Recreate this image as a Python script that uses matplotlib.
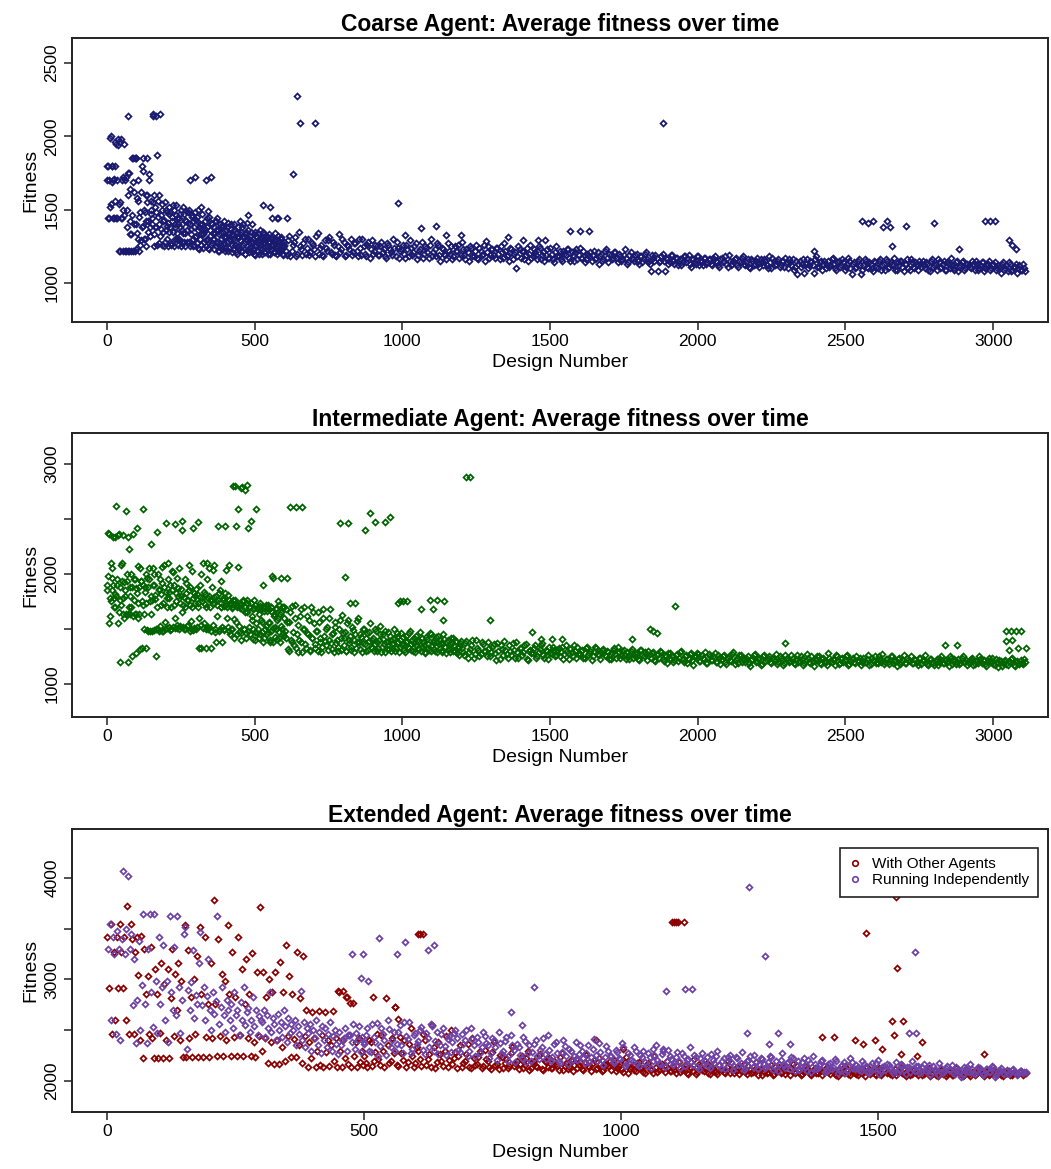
import numpy as np
import matplotlib
matplotlib.use('Agg')
import matplotlib.pyplot as plt
from matplotlib.lines import Line2D

plt.rcParams['font.family'] = ['Liberation Sans', 'DejaVu Sans']
FS_TITLE, FS_TICK, FS_LAB, FS_LEG = 16.5, 12.5, 14, 11

# ---------------- Coarse agent ----------------
# designs 1..598, every 3rd design
coarse_y_early = [
    1700, 1800, 1440, 1520, 2000, 1690, 1800, 1440, 1710, 1800,
    1950, 1440, 1980, 1540, 1220, 1960, 1440, 1700, 1500, 1950,
    1220, 1720, 1380, 1220, 1600, 1750, 1330, 1220, 1460, 1690,
    1620, 1220, 1400, 1850, 1340, 1560, 1220, 1480, 1290, 1800,
    1390, 1850, 1500, 1300, 1420, 1600, 1350, 1700, 1380, 1470,
    1560, 1400, 2150, 1330, 1520, 1380, 1870, 1450, 1270, 1600,
    2150, 1370, 1500, 1420, 1250, 1550, 1360, 1480, 1300, 1410,
    1520, 1380, 1260, 1450, 1350, 1500, 1300, 1400, 1530, 1340,
    1260, 1440, 1380, 1500, 1280, 1400, 1340, 1470, 1250, 1420,
    1360, 1480, 1280, 1400, 1700, 1330, 1450, 1250, 1380, 1310,
    1430, 1270, 1360, 1500, 1230, 1400, 1330, 1470, 1240, 1350,
    1420, 1290, 1700, 1380, 1240, 1450, 1320, 1260, 1400, 1300,
    1380, 1230, 1340, 1420, 1270, 1360, 1220, 1400, 1300, 1340,
    1250, 1390, 1310, 1220, 1360, 1280, 1410, 1240, 1330, 1290,
    1370, 1210, 1300, 1400, 1260, 1340, 1200, 1310, 1380, 1230,
    1290, 1350, 1220, 1400, 1270, 1330, 1200, 1300, 1250, 1360,
    1210, 1320, 1280, 1400, 1230, 1300, 1200, 1350, 1260, 1310,
    1220, 1290, 1360, 1240, 1300, 1200, 1270, 1330, 1210, 1290,
    1250, 1310, 1200, 1280, 1520, 1230, 1300, 1260, 1210, 1340,
    1240, 1290, 1200, 1320, 1260, 1220, 1300, 1250, 1190, 1280,
]
# designs 2..599, every 3rd design
coarse_y_early_b = [
    1800, 1440, 1700, 1990, 1540, 1800, 1700, 1440, 1960, 1560,
    1440, 1700, 1940, 1220, 1550, 1980, 1440, 1220, 1720, 1460,
    1700, 1220, 1500, 1750, 1220, 1420, 1640, 1330, 1850, 1220,
    1400, 1850, 1230, 1580, 1300, 1700, 1450, 1260, 1620, 1380,
    1760, 1300, 1480, 1600, 1250, 1550, 1420, 1740, 1320, 1500,
    1440, 1550, 1250, 1600, 1380, 1480, 1260, 1560, 1400, 1320,
    1460, 1260, 1540, 1350, 1430, 1280, 1500, 1390, 1250, 1470,
    1350, 1480, 1270, 1420, 1530, 1250, 1380, 1460, 1300, 1440,
    1400, 1300, 1470, 1250, 1360, 1520, 1280, 1430, 1340, 1490,
    1280, 1410, 1500, 1250, 1370, 1460, 1300, 1420, 1260, 1480,
    1320, 1450, 1240, 1380, 1300, 1520, 1260, 1400, 1330, 1280,
    1370, 1250, 1440, 1300, 1490, 1230, 1360, 1410, 1270, 1340,
    1300, 1420, 1250, 1360, 1440, 1220, 1330, 1270, 1390, 1230,
    1350, 1270, 1420, 1240, 1310, 1380, 1220, 1340, 1300, 1400,
    1260, 1330, 1230, 1360, 1290, 1210, 1350, 1250, 1310, 1420,
    1330, 1220, 1380, 1260, 1310, 1200, 1350, 1290, 1410, 1230,
    1300, 1240, 1350, 1210, 1280, 1330, 1250, 1190, 1320, 1270,
    1340, 1200, 1260, 1310, 1230, 1290, 1350, 1210, 1270, 1320,
    1230, 1280, 1330, 1200, 1260, 1310, 1440, 1240, 1290, 1210,
    1300, 1250, 1440, 1210, 1280, 1230, 1310, 1270, 1200, 1260,
]
# designs 601..3105, every 8th design
coarse_y_late = [
    1250, 1190, 1320, 1220, 1280, 1180, 1350, 1230, 1270, 1200,
    1300, 1210, 1260, 1180, 1340, 1240, 1190, 1290, 1220, 1310,
    1200, 1260, 1180, 1330, 1230, 1280, 1190, 1250, 1300, 1210,
    1270, 1180, 1240, 1300, 1200, 1260, 1170, 1290, 1220, 1250,
    1190, 1280, 1230, 1170, 1260, 1210, 1300, 1180, 1240, 1220,
    1260, 1170, 1230, 1290, 1190, 1250, 1160, 1220, 1280, 1200,
    1240, 1170, 1300, 1210, 1180, 1260, 1150, 1230, 1190, 1270,
    1200, 1160, 1250, 1220, 1170, 1280, 1190, 1230, 1150, 1240,
    1180, 1260, 1160, 1220, 1200, 1150, 1250, 1190, 1230, 1170,
    1240, 1160, 1210, 1270, 1180, 1150, 1230, 1200, 1100, 1250,
    1170, 1220, 1190, 1150, 1260, 1180, 1210, 1160, 1240, 1190,
    1150, 1230, 1170, 1200, 1140, 1250, 1180, 1160, 1220, 1190,
    1230, 1150, 1190, 1210, 1160, 1240, 1170, 1140, 1200, 1180,
    1150, 1220, 1170, 1130, 1200, 1160, 1230, 1140, 1190, 1170,
    1210, 1140, 1180, 1160, 1230, 1130, 1190, 1170, 1150, 1200,
    1130, 1180, 1160, 1210, 1140, 1080, 1170, 1190, 1080, 1150,
    1200, 1080, 1160, 1140, 1190, 1130, 1170, 1150, 1120, 1180,
    1140, 1190, 1110, 1160, 1130, 1180, 1150, 1120, 1170, 1140,
    1160, 1120, 1180, 1140, 1110, 1170, 1150, 1130, 1190, 1120,
    1150, 1170, 1110, 1140, 1180, 1120, 1160, 1100, 1150, 1130,
    1170, 1110, 1140, 1160, 1120, 1180, 1100, 1150, 1130, 1160,
    1120, 1150, 1170, 1100, 1140, 1160, 1110, 1060, 1150, 1130,
    1070, 1160, 1120, 1140, 1070, 1180, 1110, 1150, 1130, 1100,
    1150, 1120, 1170, 1100, 1140, 1110, 1160, 1090, 1130, 1150,
    1060, 1140, 1110, 1160, 1060, 1120, 1150, 1100, 1130, 1080,
    1140, 1100, 1160, 1120, 1090, 1150, 1110, 1130, 1170, 1090,
    1120, 1150, 1080, 1130, 1100, 1160, 1110, 1140, 1090, 1130,
    1150, 1100, 1130, 1080, 1160, 1120, 1090, 1140, 1110, 1150,
    1090, 1130, 1170, 1100, 1140, 1080, 1120, 1150, 1100, 1130,
    1110, 1150, 1090, 1130, 1100, 1140, 1080, 1120, 1150, 1100,
    1130, 1090, 1120, 1070, 1140, 1100, 1080, 1130, 1090, 1110,
    1070, 1120, 1090, 1100,
]
# designs 605..3109, every 8th design
coarse_y_late_b = [
    1220, 1290, 1180, 1260, 1310, 1200, 1250, 1190, 1300, 1240,
    1190, 1270, 1230, 1320, 1200, 1260, 1180, 1240, 1290, 1210,
    1280, 1190, 1250, 1210, 1300, 1180, 1260, 1230, 1190, 1270,
    1220, 1300, 1190, 1250, 1180, 1280, 1230, 1200, 1260, 1190,
    1250, 1210, 1180, 1270, 1230, 1190, 1240, 1280, 1170, 1230,
    1200, 1260, 1180, 1240, 1210, 1270, 1190, 1230, 1170, 1250,
    1210, 1260, 1180, 1230, 1270, 1190, 1240, 1200, 1160, 1220,
    1250, 1180, 1220, 1260, 1190, 1230, 1160, 1210, 1250, 1180,
    1220, 1170, 1240, 1190, 1260, 1210, 1170, 1230, 1190, 1240,
    1200, 1250, 1170, 1220, 1190, 1240, 1160, 1210, 1180, 1230,
    1220, 1160, 1240, 1200, 1170, 1230, 1190, 1250, 1160, 1210,
    1190, 1170, 1240, 1160, 1210, 1180, 1220, 1150, 1200, 1230,
    1170, 1210, 1150, 1230, 1190, 1170, 1220, 1160, 1190, 1210,
    1190, 1160, 1210, 1180, 1150, 1220, 1170, 1200, 1160, 1210,
    1170, 1200, 1150, 1190, 1170, 1140, 1210, 1160, 1190, 1150,
    1180, 1140, 1200, 1160, 1130, 1190, 1150, 1170, 1140, 1180,
    1150, 1170, 1130, 1190, 1150, 1170, 1120, 1160, 1140, 1180,
    1170, 1130, 1160, 1140, 1180, 1120, 1150, 1170, 1130, 1160,
    1130, 1170, 1150, 1120, 1160, 1140, 1180, 1110, 1150, 1130,
    1160, 1120, 1150, 1170, 1130, 1140, 1110, 1160, 1120, 1150,
    1130, 1160, 1120, 1150, 1100, 1140, 1170, 1120, 1150, 1110,
    1150, 1110, 1140, 1160, 1120, 1090, 1150, 1130, 1110, 1160,
    1130, 1100, 1150, 1120, 1160, 1110, 1140, 1090, 1150, 1120,
    1110, 1160, 1130, 1090, 1150, 1120, 1140, 1110, 1170, 1100,
    1130, 1100, 1150, 1120, 1090, 1160, 1110, 1140, 1100, 1150,
    1110, 1150, 1090, 1130, 1160, 1100, 1140, 1120, 1090, 1140,
    1150, 1110, 1130, 1160, 1090, 1140, 1100, 1130, 1150, 1110,
    1120, 1140, 1090, 1150, 1110, 1130, 1160, 1100, 1130, 1090,
    1140, 1100, 1120, 1090, 1150, 1110, 1140, 1090, 1130, 1120,
    1100, 1130, 1150, 1090, 1120, 1140, 1100, 1130, 1090, 1120,
    1140, 1100, 1110, 1130, 1090, 1120, 1140, 1080, 1110, 1130,
    1100, 1090, 1130, 1080,
]
coarse_out_x = [71, 155, 168, 643, 655, 704, 630, 1882, 298, 352, 135, 89, 98,
                528, 477, 575, 609, 985, 2556, 2575, 2593, 2627, 2640, 2650,
                2705, 2800, 2972, 2990, 3006, 3053, 3065, 3077, 2657, 2393,
                2884, 1063, 1115, 1147, 1199, 1009, 1567, 1600, 1632, 1408,
                1460, 1483, 1283, 1358]
coarse_out_y = [2140, 2140, 2140, 2274, 2089, 2089, 1740, 2089, 1719, 1719,
                1850, 1850, 1850, 1534, 1466, 1445, 1445, 1548, 1425, 1405,
                1425, 1380, 1420, 1380, 1385, 1410, 1425, 1425, 1425, 1295,
                1260, 1233, 1253, 1220, 1233, 1377, 1390, 1329, 1329, 1329,
                1356, 1356, 1356, 1295, 1295, 1295, 1288, 1310]

# ---------------- Intermediate agent ----------------
# designs 1..598, every 3rd design
inter_y_early = [
    1900, 2370, 1550, 1780, 2100, 1850, 1960, 2340, 1700, 1820,
    2620, 1900, 2350, 1650, 1760, 1200, 2080, 1940, 2350, 1600,
    1800, 2570, 2000, 1640, 1200, 2230, 1880, 1700, 1250, 2360,
    1950, 1640, 1280, 1870, 2420, 1740, 1640, 2050, 1940, 1330,
    1720, 2590, 1640, 1880, 1330, 1960, 1480, 2050, 1750, 2270,
    1640, 1480, 1900, 2000, 1770, 1250, 2380, 1500, 1850, 1480,
    1950, 1720, 2060, 1480, 1880, 1560, 2460, 1780, 1510, 2100,
    1840, 1490, 1700, 2030, 1520, 1900, 1600, 2450, 1750, 1510,
    1870, 2050, 1530, 1800, 1650, 2480, 1720, 1500, 1950, 1830,
    1530, 1760, 2080, 1480, 1880, 1570, 1700, 2420, 1510, 1800,
    1860, 1520, 2470, 1740, 1600, 1900, 1330, 1780, 2100, 1550,
    1820, 1330, 1700, 1950, 1500, 2050, 1760, 1330, 1880, 1540,
    1790, 2080, 1470, 1750, 1620, 2440, 1830, 1500, 1700, 1940,
    1380, 1760, 1500, 2440, 1720, 1600, 1810, 1480, 2080, 1740,
    1500, 1700, 2800, 1590, 1760, 2440, 1450, 1720, 2590, 1530,
    1690, 1400, 2790, 1760, 1500, 1650, 2760, 1460, 1740, 2420,
    1520, 1700, 2480, 1580, 1680, 1410, 1760, 1470, 2590, 1690,
    1500, 1640, 1740, 1450, 1680, 1560, 1900, 1420, 1700, 1530,
    1660, 1470, 1720, 1550, 1380, 1700, 1980, 1510, 1640, 1430,
    1690, 1500, 1580, 1750, 1420, 1640, 1530, 1700, 1460, 1600,
]
# designs 2..599, every 3rd design
inter_y_early_b = [
    1850, 1980, 2360, 1620, 1750, 2050, 1900, 1780, 2340, 1700,
    1800, 1950, 1550, 2360, 1880, 1720, 2100, 1640, 1780, 1930,
    1850, 1640, 1940, 2340, 1700, 1800, 1640, 2000, 1880, 1620,
    1760, 1950, 1640, 1830, 2070, 1600, 1880, 1320, 1940, 1750,
    1900, 1500, 1840, 2000, 1740, 1490, 1880, 1950, 1480, 1800,
    1760, 2050, 1490, 1900, 1810, 1500, 1700, 2000, 1860, 1530,
    1820, 1480, 1920, 1740, 2080, 1500, 1840, 1700, 1950, 1520,
    1780, 1900, 1500, 1850, 2020, 1720, 1510, 1830, 1960, 1540,
    1800, 1500, 1740, 1860, 2400, 1520, 1790, 1700, 1500, 1920,
    1760, 1540, 1850, 1720, 1500, 2030, 1780, 1490, 1830, 1740,
    1500, 1820, 1700, 1330, 1790, 1540, 2000, 1750, 1510, 1840,
    1730, 1500, 2100, 1780, 1520, 1800, 1700, 1480, 1760, 2040,
    1740, 1500, 1800, 1380, 1720, 1760, 1480, 1850, 1700, 1520,
    1780, 1710, 1490, 1830, 2040, 1700, 1520, 1760, 1450, 1720,
    1690, 1500, 1760, 1420, 1730, 1560, 1700, 2060, 1470, 1740,
    1720, 1460, 1680, 1750, 1500, 1700, 1420, 1760, 1650, 1480,
    1700, 1450, 1740, 1620, 1500, 1690, 1400, 1720, 1550, 1460,
    1680, 1420, 1710, 1580, 1470, 1700, 1380, 1660, 1500, 1720,
    1450, 1690, 1560, 1400, 1700, 1480, 1650, 1380, 1620, 1520,
    1680, 1410, 1600, 1720, 1470, 1380, 1650, 1500, 1700, 1440,
]
# designs 601..1196, every 5th design
inter_y_mid = [
    1700, 1420, 1560, 1300, 1650, 1380, 1470, 1720, 1330, 1540,
    1400, 1680, 1290, 1500, 1360, 1620, 1450, 1310, 1700, 1420,
    1550, 1330, 1480, 1650, 1380, 1290, 1600, 1440, 1350, 1520,
    1400, 1680, 1320, 1460, 1560, 1370, 1300, 1500, 1420, 1630,
    1350, 1470, 1300, 1580, 1400, 1340, 1520, 1290, 1450, 1380,
    1600, 1320, 1430, 1370, 1500, 1300, 1460, 1390, 1550, 1330,
    1420, 1360, 1480, 1300, 1400, 1530, 1340, 1450, 1290, 1380,
    1470, 1320, 1400, 1360, 1500, 1300, 1430, 1380, 1340, 1460,
    1370, 1310, 1440, 1390, 1330, 1480, 1360, 1300, 1420, 1350,
    1400, 1320, 1470, 1340, 1380, 1290, 1430, 1360, 1310, 1450,
    1350, 1400, 1300, 1380, 1440, 1330, 1370, 1290, 1410, 1340,
    1380, 1310, 1360, 1420, 1300, 1350, 1390, 1280, 1340, 1370,
]
# designs 603..1198, every 5th design
inter_y_mid_b = [
    1480, 1680, 1320, 1560, 1400, 1710, 1350, 1600, 1450, 1290,
    1620, 1380, 1500, 1700, 1330, 1460, 1580, 1300, 1420, 1650,
    1360, 1480, 1300, 1560, 1420, 1340, 1680, 1390, 1500, 1310,
    1600, 1370, 1450, 1290, 1520, 1400, 1340, 1580, 1310, 1460,
    1420, 1300, 1550, 1370, 1440, 1310, 1490, 1400, 1330, 1570,
    1380, 1450, 1290, 1500, 1360, 1420, 1310, 1470, 1340, 1400,
    1300, 1500, 1380, 1330, 1450, 1290, 1410, 1360, 1480, 1320,
    1390, 1440, 1300, 1370, 1420, 1330, 1460, 1290, 1400, 1350,
    1430, 1290, 1380, 1340, 1460, 1310, 1400, 1370, 1290, 1440,
    1330, 1390, 1300, 1420, 1350, 1280, 1410, 1330, 1460, 1300,
    1380, 1320, 1430, 1290, 1360, 1400, 1310, 1450, 1340, 1280,
    1400, 1330, 1290, 1370, 1420, 1300, 1380, 1330, 1260, 1390,
]
# designs 1201..3105, every 8th design
inter_y_late = [
    1330, 1260, 1390, 1290, 1350, 1240, 1400, 1310, 1270, 1360,
    1300, 1380, 1250, 1340, 1280, 1370, 1230, 1320, 1390, 1270,
    1350, 1260, 1310, 1380, 1240, 1330, 1290, 1360, 1220, 1310,
    1280, 1350, 1250, 1320, 1370, 1240, 1300, 1340, 1270, 1310,
    1260, 1330, 1290, 1230, 1350, 1280, 1320, 1250, 1300, 1340,
    1270, 1310, 1240, 1340, 1280, 1220, 1300, 1330, 1260, 1290,
    1320, 1250, 1290, 1230, 1310, 1270, 1340, 1240, 1300, 1260,
    1290, 1230, 1320, 1260, 1280, 1220, 1310, 1250, 1270, 1300,
    1240, 1290, 1210, 1270, 1300, 1230, 1260, 1190, 1280, 1250,
    1220, 1270, 1240, 1300, 1200, 1260, 1230, 1280, 1170, 1250,
    1270, 1210, 1240, 1290, 1190, 1250, 1220, 1280, 1200, 1240,
    1230, 1260, 1180, 1250, 1210, 1290, 1220, 1190, 1260, 1230,
    1200, 1250, 1160, 1230, 1270, 1210, 1240, 1180, 1260, 1220,
    1250, 1190, 1230, 1270, 1200, 1240, 1170, 1260, 1220, 1210,
    1240, 1180, 1260, 1210, 1230, 1190, 1270, 1200, 1250, 1160,
    1220, 1250, 1180, 1240, 1200, 1280, 1210, 1230, 1170, 1250,
    1190, 1240, 1220, 1260, 1180, 1230, 1200, 1250, 1210, 1170,
    1240, 1200, 1260, 1180, 1220, 1250, 1190, 1230, 1270, 1200,
    1230, 1180, 1250, 1210, 1160, 1240, 1200, 1260, 1190, 1220,
    1250, 1190, 1220, 1170, 1240, 1210, 1260, 1180, 1230, 1200,
    1170, 1230, 1200, 1250, 1190, 1220, 1160, 1240, 1210, 1180,
    1230, 1190, 1250, 1200, 1170, 1220, 1240, 1180, 1210, 1250,
    1190, 1220, 1160, 1240, 1200, 1180, 1230, 1150, 1210, 1190,
    1220, 1170, 1200, 1240, 1160, 1210, 1180, 1190, 1230,
]
# designs 1205..3109, every 8th design
inter_y_late_b = [
    1290, 1370, 1240, 1320, 1400, 1270, 1330, 1250, 1380, 1300,
    1250, 1330, 1290, 1360, 1220, 1300, 1350, 1260, 1310, 1240,
    1300, 1370, 1240, 1290, 1330, 1260, 1350, 1230, 1300, 1280,
    1330, 1240, 1290, 1350, 1260, 1310, 1230, 1280, 1340, 1250,
    1310, 1250, 1340, 1270, 1300, 1230, 1290, 1350, 1240, 1280,
    1300, 1240, 1330, 1260, 1300, 1250, 1340, 1270, 1230, 1310,
    1260, 1300, 1230, 1280, 1330, 1240, 1290, 1260, 1310, 1230,
    1250, 1300, 1240, 1280, 1230, 1310, 1260, 1290, 1220, 1270,
    1280, 1220, 1260, 1240, 1290, 1210, 1250, 1280, 1230, 1200,
    1260, 1210, 1290, 1230, 1250, 1190, 1270, 1220, 1250, 1280,
    1210, 1260, 1230, 1190, 1270, 1220, 1250, 1200, 1260, 1180,
    1250, 1200, 1240, 1220, 1270, 1180, 1240, 1260, 1200, 1230,
    1240, 1190, 1220, 1260, 1200, 1230, 1170, 1250, 1210, 1240,
    1200, 1240, 1210, 1180, 1250, 1220, 1190, 1240, 1200, 1260,
    1190, 1230, 1200, 1250, 1170, 1220, 1240, 1190, 1210, 1230,
    1250, 1190, 1230, 1210, 1170, 1240, 1200, 1220, 1260, 1180,
    1230, 1200, 1250, 1170, 1220, 1240, 1190, 1210, 1240, 1200,
    1200, 1230, 1170, 1240, 1210, 1190, 1250, 1200, 1180, 1230,
    1200, 1250, 1190, 1220, 1230, 1180, 1220, 1190, 1240, 1210,
    1190, 1230, 1200, 1240, 1180, 1220, 1200, 1170, 1230, 1190,
    1210, 1170, 1230, 1190, 1220, 1200, 1250, 1180, 1230, 1200,
    1180, 1240, 1200, 1220, 1190, 1230, 1170, 1210, 1190, 1230,
    1220, 1180, 1210, 1200, 1240, 1170, 1200, 1220, 1160, 1210,
    1180, 1210, 1230, 1170, 1200, 1190, 1220, 1180, 1200,
]
inter_out_x = [1215, 1230, 992, 1003, 1015, 1140, 1063, 1105, 1138, 1297, 1438,
               1470, 1505, 1540, 1923, 1838, 1850, 1862, 1777, 2295, 2836, 2877,
               3043, 3060, 3077, 3094, 3045, 3065, 3085, 3110, 3055, 789, 816,
               890, 907, 940, 873, 958, 823, 840, 806, 1093, 1117, 985, 620,
               640, 660, 435, 455, 475, 563, 590, 609]
inter_out_y = [2880, 2880, 1755, 1755, 1755, 1755, 1682, 1682, 1582, 1582, 1473,
               1410, 1410, 1410, 1710, 1500, 1480, 1460, 1410, 1373, 1355, 1355,
               1482, 1482, 1482, 1482, 1390, 1400, 1330, 1327, 1310, 2464, 2464,
               2555, 2470, 2470, 2400, 2518, 1736, 1736, 1973, 1764, 1764, 1736,
               2610, 2610, 2610, 2800, 2780, 2810, 1960, 1960, 1960]

# ---------------- Extended agent ----------------
# With Other Agents: designs 1..499 every 3rd
ext_with_y_early = [
    3420, 2920, 3545, 2460, 3270, 2600, 3420, 2920, 3545, 3270,
    2920, 3420, 2600, 3720, 2460, 3545, 3400, 2460, 3270, 3420,
    3040, 2400, 3430, 2230, 3300, 2860, 3030, 2460, 3320, 2420,
    2230, 3100, 2860, 2230, 2470, 3160, 2230, 2960, 2400, 3100,
    2230, 2820, 3300, 2440, 3050, 2700, 3160, 2400, 2990, 2240,
    3540, 2240, 3290, 2420, 2830, 2240, 3000, 2460, 3230, 2240,
    3520, 2860, 2240, 3420, 2430, 2760, 2240, 3160, 2420, 3780,
    2760, 2245, 3400, 2440, 3050, 2245, 2990, 2400, 3535, 2860,
    2245, 3270, 2430, 2830, 2250, 3420, 2450, 3100, 2245, 2760,
    3200, 2420, 2860, 2250, 3260, 2380, 2240, 3070, 2440, 3715,
    2300, 3070, 2420, 2830, 2180, 3000, 2380, 2880, 2170, 3070,
    2400, 2170, 3175, 2330, 2880, 2200, 3340, 2440, 3030, 2240,
    2860, 2410, 2240, 3270, 2350, 2820, 2180, 3230, 2440, 2700,
    2140, 2380, 2230, 2680, 2420, 2140, 2300, 2690, 2160, 2450,
    2140, 2680, 2290, 2400, 2150, 2350, 2690, 2200, 2420, 2140,
    2880, 2300, 2140, 2400, 2230, 2830, 2170, 2450, 2140, 2765,
    2250, 2380, 2140, 2420, 2190, 2300, 2160,
]
# With Other Agents: designs 501..1785 every 6th
ext_with_y_late = [
    2250, 2140, 2380, 2200, 2460, 2160, 2300, 2820, 2180, 2420,
    2730, 2150, 2280, 2400, 2190, 2520, 2140, 2330, 2220, 2460,
    2160, 2270, 2550, 2130, 2380, 2200, 2300, 2140, 2500, 2230,
    2130, 2350, 2180, 2270, 2140, 2420, 2160, 2240, 2130, 2310,
    2200, 2120, 2380, 2170, 2260, 2130, 2220, 2150, 2330, 2180,
    2120, 2250, 2160, 2300, 2130, 2200, 2140, 2270, 2110, 2190,
    2230, 2130, 2170, 2110, 2280, 2150, 2120, 2210, 2160, 2130,
    2190, 2110, 2260, 2140, 2180, 2120, 2230, 2100, 2170, 2150,
    2110, 2210, 2130, 2170, 2090, 2240, 2120, 2160, 2100, 2190,
    2130, 2080, 2180, 2110, 2250, 2090, 2150, 2120, 2200, 2100,
    2140, 2080, 2190, 2110, 2160, 2070, 2130, 2220, 2090, 2150,
    2100, 2180, 2070, 2130, 2090, 2160, 2110, 2080, 2200, 2120,
    2080, 2140, 2100, 2170, 2070, 2120, 2090, 2190, 2110, 2060,
    2130, 2090, 2160, 2070, 2110, 2080, 2140, 2100, 2060, 2170,
    2090, 2120, 2070, 2150, 2100, 2060, 2130, 2080, 2110, 2090,
    2140, 2070, 2100, 2060, 2120, 2090, 2150, 2070, 2110, 2080,
    2060, 2120, 2090, 2140, 2070, 2100, 2060, 2130, 2080, 2110,
    2090, 2060, 2120, 2080, 2140, 2070, 2100, 2060, 2110, 2080,
    2120, 2060, 2090, 2130, 2070, 2100, 2050, 2110, 2080, 2070,
    2100, 2060, 2130, 2080, 2050, 2110, 2070, 2090, 2060, 2120,
    2080, 2050, 2100, 2070, 2110, 2060, 2090, 2050, 2080, 2100,
    2060, 2090, 2070, 2100, 2080,
]
# With Other Agents: designs 504..1788 every 6th
ext_with_y_late_b = [
    2180, 2400, 2150, 2290, 2220, 2450, 2140, 2350, 2200, 2280,
    2160, 2430, 2210, 2140, 2360, 2250, 2180, 2300, 2150, 2400,
    2220, 2140, 2330, 2190, 2270, 2150, 2440, 2210, 2170, 2290,
    2250, 2140, 2200, 2360, 2130, 2230, 2170, 2300, 2150, 2220,
    2140, 2290, 2160, 2120, 2240, 2180, 2130, 2280, 2150, 2200,
    2170, 2130, 2230, 2110, 2190, 2150, 2260, 2120, 2200, 2140,
    2130, 2200, 2150, 2240, 2110, 2180, 2140, 2100, 2220, 2160,
    2120, 2190, 2150, 2100, 2210, 2130, 2170, 2110, 2160, 2200,
    2170, 2100, 2150, 2120, 2190, 2080, 2140, 2110, 2180, 2130,
    2090, 2160, 2120, 2080, 2140, 2110, 2170, 2090, 2130, 2100,
    2110, 2160, 2090, 2130, 2080, 2140, 2100, 2070, 2170, 2110,
    2130, 2080, 2150, 2100, 2070, 2120, 2090, 2140, 2080, 2110,
    2100, 2070, 2130, 2090, 2150, 2080, 2110, 2060, 2120, 2090,
    2080, 2120, 2060, 2100, 2140, 2090, 2070, 2110, 2130, 2080,
    2110, 2060, 2090, 2130, 2070, 2100, 2080, 2120, 2060, 2100,
    2090, 2110, 2070, 2050, 2100, 2080, 2120, 2060, 2090, 2070,
    2100, 2080, 2050, 2110, 2090, 2070, 2100, 2060, 2120, 2080,
    2070, 2100, 2060, 2090, 2080, 2050, 2110, 2070, 2090, 2060,
    2090, 2070, 2110, 2050, 2080, 2060, 2100, 2070, 2050, 2090,
    2060, 2080, 2100, 2070, 2060, 2090, 2050, 2080, 2070, 2100,
    2070, 2090, 2060, 2080, 2100, 2070, 2060, 2090, 2080, 2060,
    2080, 2070, 2090, 2060, 2080,
]
ext_with_out_x = [605, 610, 615, 449, 459, 467, 473, 518, 560, 567, 951, 1004,
                  1099, 1103, 1107, 1111, 1122, 1477, 1535, 1537, 1527, 1549,
                  1531, 1391, 1414, 1455, 1471, 1494, 1508, 1545, 1587, 1576, 1706]
ext_with_out_y = [3446, 3446, 3446, 2886, 2886, 2826, 2767, 2826, 2728, 2610,
                  2403, 2315, 3565, 3565, 3565, 3565, 3565, 3456, 3810, 3112,
                  2590, 2590, 2452, 2433, 2433, 2400, 2364, 2400, 2315, 2266,
                  2384, 2250, 2266]

# Running Independently: designs 2..500 every 3rd
ext_ind_y_early = [
    3300, 3550, 2600, 3420, 3250, 2460, 3480, 3300, 2403, 3400,
    4070, 3250, 3500, 4017, 3300, 3450, 2750, 3200, 2370, 2800,
    3380, 2500, 2950, 3650, 2760, 2370, 3300, 3650, 2880, 2535,
    3650, 2990, 2470, 3420, 2760, 2930, 3340, 2600, 2990, 2380,
    3630, 2880, 2700, 3320, 2650, 3630, 2930, 2470, 2800, 3450,
    3520, 2320, 2900, 2700, 2980, 3290, 2620, 2850, 2760, 3160,
    3470, 2750, 2930, 2600, 2840, 3200, 2700, 2500, 2880, 2660,
    2790, 3630, 2560, 2730, 2930, 2650, 2480, 2800, 2700, 2600,
    2760, 2520, 2880, 2650, 2700, 2450, 2780, 2600, 2930, 2550,
    2680, 2720, 2480, 2600, 2830, 2540, 2700, 2450, 2640, 2600,
    2580, 2700, 2430, 2650, 2520, 2880, 2480, 2620, 2560, 2400,
    2660, 2500, 2580, 2430, 2700, 2540, 2380, 2620, 2470, 2560,
    2500, 2600, 2350, 2540, 2460, 2890, 2400, 2580, 2330, 2520,
    2470, 2560, 2300, 2500, 2420, 2600, 2350, 2480, 2280, 2540,
    2400, 2520, 2330, 2460, 2580, 2300, 2440, 2500, 2360, 2270,
    2480, 2350, 2400, 2420, 2520, 2300, 2450, 2450, 2380, 2560,
    2320, 2470, 2400, 2540, 2290, 2430, 2360,
]
# Running Independently: designs 504..1788 every 6th
ext_ind_y_late = [
    2450, 2300, 2560, 2380, 2250, 2520, 2400, 2600, 2330, 2480,
    2360, 2550, 2280, 2440, 2580, 2320, 2470, 2390, 2530, 2270,
    2420, 2560, 2300, 2480, 2350, 2520, 2260, 2440, 2380, 2500,
    2310, 2460, 2400, 2250, 2520, 2350, 2430, 2280, 2480, 2370,
    2230, 2420, 2330, 2480, 2270, 2390, 2200, 2450, 2310, 2360,
    2260, 2430, 2190, 2350, 2290, 2400, 2220, 2330, 2270, 2450,
    2200, 2360, 2280, 2180, 2400, 2250, 2320, 2210, 2380, 2270,
    2300, 2180, 2350, 2240, 2410, 2200, 2290, 2160, 2340, 2250,
    2190, 2310, 2230, 2370, 2150, 2280, 2210, 2330, 2170, 2260,
    2300, 2150, 2240, 2200, 2350, 2180, 2270, 2140, 2310, 2220,
    2180, 2290, 2130, 2250, 2210, 2330, 2160, 2240, 2120, 2280,
    2200, 2150, 2270, 2180, 2300, 2130, 2230, 2190, 2260, 2110,
    2240, 2160, 2290, 2130, 2210, 2180, 2260, 2120, 2230, 2170,
    2150, 2250, 2110, 2200, 2170, 2280, 2130, 2190, 2240, 2100,
    2200, 2140, 2230, 2100, 2180, 2250, 2120, 2160, 2210, 2090,
    2170, 2120, 2220, 2080, 2150, 2190, 2100, 2230, 2130, 2160,
    2110, 2200, 2140, 2080, 2180, 2120, 2210, 2090, 2150, 2170,
    2130, 2080, 2190, 2110, 2160, 2070, 2140, 2200, 2100, 2150,
    2090, 2170, 2120, 2060, 2150, 2100, 2180, 2080, 2130, 2110,
    2160, 2070, 2120, 2040, 2140, 2100, 2170, 2080, 2110, 2130,
    2060, 2120, 2090, 2150, 2040, 2100, 2130, 2070, 2110, 2090,
    2120, 2060, 2100, 2080, 2090,
]
# Running Independently: designs 501..1785 every 6th
ext_ind_y_late_b = [
    2380, 2520, 2290, 2430, 2570, 2340, 2460, 2260, 2510, 2400,
    2300, 2480, 2350, 2580, 2410, 2280, 2450, 2360, 2500, 2310,
    2470, 2330, 2540, 2390, 2270, 2460, 2340, 2410, 2290, 2470,
    2420, 2290, 2360, 2500, 2300, 2410, 2250, 2380, 2330, 2440,
    2350, 2280, 2400, 2210, 2370, 2300, 2430, 2260, 2350, 2190,
    2330, 2230, 2390, 2280, 2200, 2360, 2250, 2310, 2420, 2220,
    2310, 2240, 2380, 2200, 2290, 2340, 2170, 2300, 2250, 2210,
    2350, 2230, 2280, 2190, 2320, 2260, 2370, 2210, 2240, 2300,
    2250, 2180, 2290, 2220, 2330, 2170, 2260, 2200, 2300, 2150,
    2240, 2190, 2280, 2130, 2260, 2210, 2170, 2300, 2200, 2250,
    2160, 2240, 2200, 2280, 2150, 2220, 2190, 2260, 2140, 2230,
    2170, 2240, 2130, 2210, 2250, 2160, 2200, 2120, 2240, 2190,
    2150, 2230, 2180, 2110, 2200, 2250, 2140, 2190, 2170, 2220,
    2130, 2190, 2240, 2150, 2100, 2210, 2160, 2180, 2120, 2230,
    2160, 2110, 2190, 2140, 2210, 2090, 2170, 2130, 2200, 2150,
    2100, 2180, 2140, 2200, 2110, 2160, 2080, 2150, 2190, 2120,
    2140, 2100, 2170, 2090, 2150, 2120, 2180, 2070, 2140, 2110,
    2160, 2100, 2130, 2080, 2170, 2110, 2140, 2090, 2120, 2150,
    2080, 2140, 2100, 2160, 2090, 2120, 2060, 2130, 2100, 2150,
    2110, 2080, 2140, 2100, 2060, 2130, 2090, 2120, 2070, 2140,
    2100, 2070, 2120, 2090, 2140, 2060, 2110, 2080, 2100, 2070,
    2110, 2090, 2080, 2100, 2090,
]
ext_ind_out_x = [477, 498, 529, 564, 580, 625, 636, 494, 508, 831, 786, 807, 1088,
                 1125, 1138, 1249, 1280, 1572, 1245, 1305, 1560, 1575, 1288, 1330,
                 1062, 1082]
ext_ind_out_y = [3250, 3250, 3407, 3250, 3368, 3290, 3340, 3010, 2990, 2925, 2680,
                 2550, 2886, 2905, 2905, 3910, 3230, 3270, 2470, 2470, 2470, 2470,
                 2360, 2360, 2315, 2315]

legend_labels = ['With Other Agents', 'Running Independently']

C_COARSE = '#191970'
C_INTER = '#006400'
C_WITH = '#8B0000'
C_IND = '#6E42A6'


def seq(start, step, vals):
    return start + step * np.arange(len(vals))


def pts(ax, x, y, color):
    ax.plot(x, y, linestyle='none', marker='D', markersize=3.0,
            markerfacecolor='none', markeredgecolor=color, markeredgewidth=1.25)


def style(ax, title, xlim, ylim, xticks, yticks, ylabels):
    ax.set_xlim(*xlim)
    ax.set_ylim(*ylim)
    ax.set_title(title, fontsize=FS_TITLE, fontweight='bold', pad=5)
    ax.set_xlabel('Design Number', fontsize=FS_LAB, labelpad=3)
    ax.set_ylabel('Fitness', fontsize=FS_LAB, labelpad=4)
    ax.set_xticks(xticks)
    ax.set_xticklabels([str(t) for t in xticks])
    ax.set_yticks(yticks)
    ax.set_yticklabels(ylabels, rotation=90, va='center')
    ax.tick_params(direction='out', length=6, width=1.1, labelsize=FS_TICK,
                   color='#222222', pad=3)
    for s in ax.spines.values():
        s.set_linewidth(1.4)
        s.set_color('#222222')


fig = plt.figure(figsize=(10.51, 11.69), dpi=100)
L, W = 0.0685, 0.9285
ax1 = fig.add_axes([L, 0.7246, W, 0.2429])
ax2 = fig.add_axes([L, 0.3867, W, 0.2429])
ax3 = fig.add_axes([L, 0.0488, W, 0.2420])

# Coarse
pts(ax1, seq(1, 3, coarse_y_early), coarse_y_early, C_COARSE)
pts(ax1, seq(2, 3, coarse_y_early_b), coarse_y_early_b, C_COARSE)
pts(ax1, seq(601, 8, coarse_y_late), coarse_y_late, C_COARSE)
pts(ax1, seq(605, 8, coarse_y_late_b), coarse_y_late_b, C_COARSE)
pts(ax1, coarse_out_x, coarse_out_y, C_COARSE)
style(ax1, 'Coarse Agent: Average fitness over time', (-118, 3185), (733, 2671),
      [0, 500, 1000, 1500, 2000, 2500, 3000], [1000, 1500, 2000, 2500],
      ['1000', '1500', '2000', '2500'])

# Intermediate
pts(ax2, seq(1, 3, inter_y_early), inter_y_early, C_INTER)
pts(ax2, seq(2, 3, inter_y_early_b), inter_y_early_b, C_INTER)
pts(ax2, seq(601, 5, inter_y_mid), inter_y_mid, C_INTER)
pts(ax2, seq(603, 5, inter_y_mid_b), inter_y_mid_b, C_INTER)
pts(ax2, seq(1201, 8, inter_y_late), inter_y_late, C_INTER)
pts(ax2, seq(1205, 8, inter_y_late_b), inter_y_late_b, C_INTER)
pts(ax2, inter_out_x, inter_out_y, C_INTER)
style(ax2, 'Intermediate Agent: Average fitness over time', (-118, 3185), (700, 3282),
      [0, 500, 1000, 1500, 2000, 2500, 3000], [1000, 1500, 2000, 2500, 3000],
      ['1000', '', '2000', '', '3000'])

# Extended
pts(ax3, seq(1, 3, ext_with_y_early), ext_with_y_early, C_WITH)
pts(ax3, seq(501, 6, ext_with_y_late), ext_with_y_late, C_WITH)
pts(ax3, seq(504, 6, ext_with_y_late_b), ext_with_y_late_b, C_WITH)
pts(ax3, ext_with_out_x, ext_with_out_y, C_WITH)
pts(ax3, seq(2, 3, ext_ind_y_early), ext_ind_y_early, C_IND)
pts(ax3, seq(504, 6, ext_ind_y_late), ext_ind_y_late, C_IND)
pts(ax3, seq(501, 6, ext_ind_y_late_b), ext_ind_y_late_b, C_IND)
pts(ax3, ext_ind_out_x, ext_ind_out_y, C_IND)
style(ax3, 'Extended Agent: Average fitness over time', (-68, 1831), (1695, 4482),
      [0, 500, 1000, 1500], [2000, 2500, 3000, 3500, 4000],
      ['2000', '', '3000', '', '4000'])

handles = [Line2D([], [], linestyle='none', marker='o', markersize=4,
                  markerfacecolor='none', markeredgecolor=c, markeredgewidth=1.2)
           for c in (C_WITH, C_IND)]
leg = ax3.legend(handles, legend_labels, loc='upper right',
                 bbox_to_anchor=(0.99, 0.933), borderaxespad=0, fontsize=FS_LEG,
                 frameon=True, fancybox=False, framealpha=1, edgecolor='#222222',
                 handlelength=0.8, handletextpad=0.7, borderpad=0.6,
                 labelspacing=0.15)
leg.get_frame().set_linewidth(1.2)

fig.savefig('out.png', dpi=100)
